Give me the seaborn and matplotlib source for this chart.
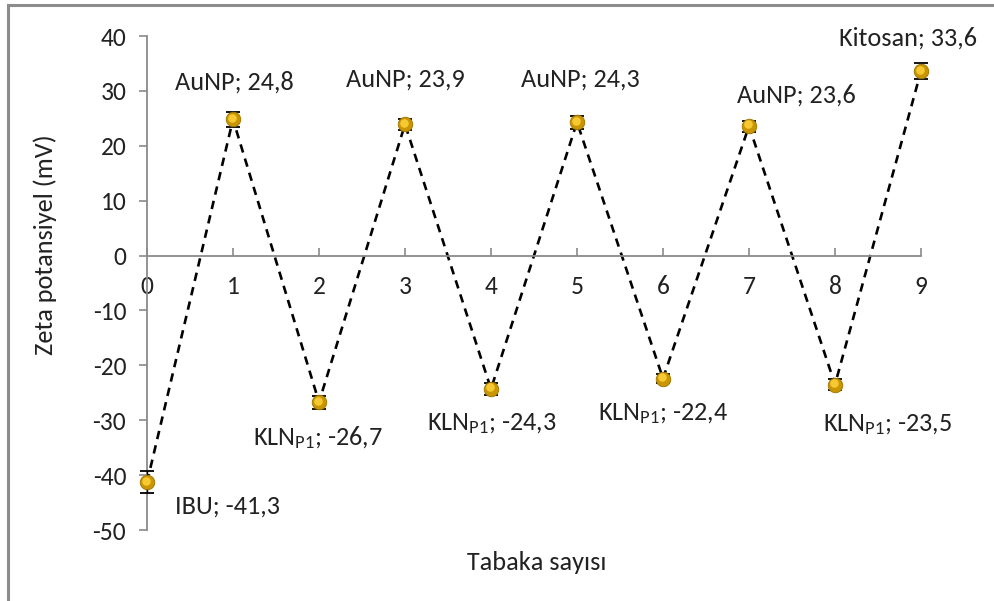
import matplotlib
matplotlib.use("Agg")
import matplotlib.pyplot as plt
import matplotlib.transforms as mtransforms
from matplotlib import font_manager
import numpy as np
import pandas as pd
import seaborn as sns

# Layer number and measured zeta potential of each deposited layer
layers = [0, 1, 2, 3, 4, 5, 6, 7, 8, 9]
zeta = [-41.3, 24.8, -26.7, 23.9, -24.3, 24.3, -22.4, 23.6, -23.5, 33.6]
zeta_err = [2.0, 1.4, 1.2, 1.0, 1.1, 1.2, 0.9, 1.0, 1.0, 1.5]
materials = ["IBU", "AuNP", r"KLN$_{\mathrm{P1}}$", "AuNP", r"KLN$_{\mathrm{P1}}$",
             "AuNP", r"KLN$_{\mathrm{P1}}$", "AuNP", r"KLN$_{\mathrm{P1}}$", "Kitosan"]
y_ticks = [40, 30, 20, 10, 0, -10, -20, -30, -40, -50]

df = pd.DataFrame({"layer": layers, "zeta": zeta, "err": zeta_err})

sns.set_theme(style="white")
installed = {f.name for f in font_manager.fontManager.ttflist}
main_font = "Carlito" if "Carlito" in installed else "Lato"
scale = 1.08 if main_font == "Carlito" else 1.0
plt.rcParams["font.family"] = [main_font, "DejaVu Sans"]
plt.rcParams["mathtext.fontset"] = "custom"
plt.rcParams["mathtext.rm"] = main_font
plt.rcParams["mathtext.it"] = main_font + ":italic"

label_fs = 17.5 * scale
tick_fs = 17.0 * scale
text_color = "#222222"

fig = plt.figure(figsize=(9.95, 6.01), dpi=100)
ax = fig.add_axes([147 / 995, 1 - 530 / 601, 774 / 995, 494 / 601])

axis_gray = "#8a8a8a"

sns.lineplot(data=df, x="layer", y="zeta", ax=ax, color="black",
             linewidth=1.9, linestyle=(0, (3.2, 2.4)), clip_on=False, zorder=2)

ax.errorbar(df["layer"], df["zeta"], yerr=df["err"], fmt="none",
            ecolor="black", elinewidth=1.0, capsize=5, capthick=1.3,
            clip_on=False, zorder=3)

sns.scatterplot(data=df, x="layer", y="zeta", ax=ax, s=110, color="#C99500",
                edgecolor="#9c7400", linewidth=0.6, clip_on=False, zorder=4)
shine = mtransforms.offset_copy(ax.transData, fig=fig, x=-1.2, y=1.6, units="dots")
ax.scatter(df["layer"], df["zeta"], s=38, color="#FFD23A", alpha=0.85,
           linewidths=0, transform=shine, clip_on=False, zorder=5)

# Value labels: offsets in pixels from each point
offsets = [(81, -24), (1, 37), (-1, -35), (0, 45), (1, -35),
           (3, 43), (0, -35), (47, 31), (53, -40), (-13, 33)]
for x, y, m, (dx, dy) in zip(layers, zeta, materials, offsets):
    ax.annotate(f"{m}; {y:.1f}".replace(".", ","), (x, y),
                xytext=(dx, dy), textcoords="offset pixels",
                ha="center", va="center", fontsize=label_fs, color=text_color)

ax.set_xlim(0, 9)
ax.set_ylim(-50, 40)
ax.set_xticks(layers)
ax.set_yticks(y_ticks)
ax.set_xticklabels([str(v) for v in layers])
ax.set_yticklabels([str(v) for v in y_ticks])

for side in ["top", "right"]:
    ax.spines[side].set_visible(False)
ax.spines["bottom"].set_position(("data", 0))
for side in ["left", "bottom"]:
    ax.spines[side].set_color(axis_gray)
    ax.spines[side].set_linewidth(1.3)

ax.tick_params(axis="y", direction="out", length=6, width=1.2, color=axis_gray,
               labelsize=tick_fs, pad=9, labelcolor=text_color, left=True)
ax.tick_params(axis="x", direction="in", length=6, width=1.2, color=axis_gray,
               labelsize=tick_fs, pad=14, labelcolor=text_color, bottom=True)
ax.set_xlabel("")
ax.set_ylabel("")
ax.grid(False)

fig.text(45 / 995, 1 - 245 / 601, "Zeta potansiyel (mV)", rotation=90,
         ha="center", va="center", fontsize=label_fs, color=text_color)
fig.text(537 / 995, 1 - 563 / 601, "Tabaka sayısı",
         ha="center", va="center", fontsize=label_fs, color=text_color)

# Chart-area border
frame = plt.Rectangle((8 / 995, -0.2), 1.2, 1.2 - 5 / 601, transform=fig.transFigure,
                      fill=False, edgecolor="#8c8c8c", linewidth=2.2, zorder=0)
fig.add_artist(frame)

fig.savefig("out.png", dpi=100, facecolor="white")
